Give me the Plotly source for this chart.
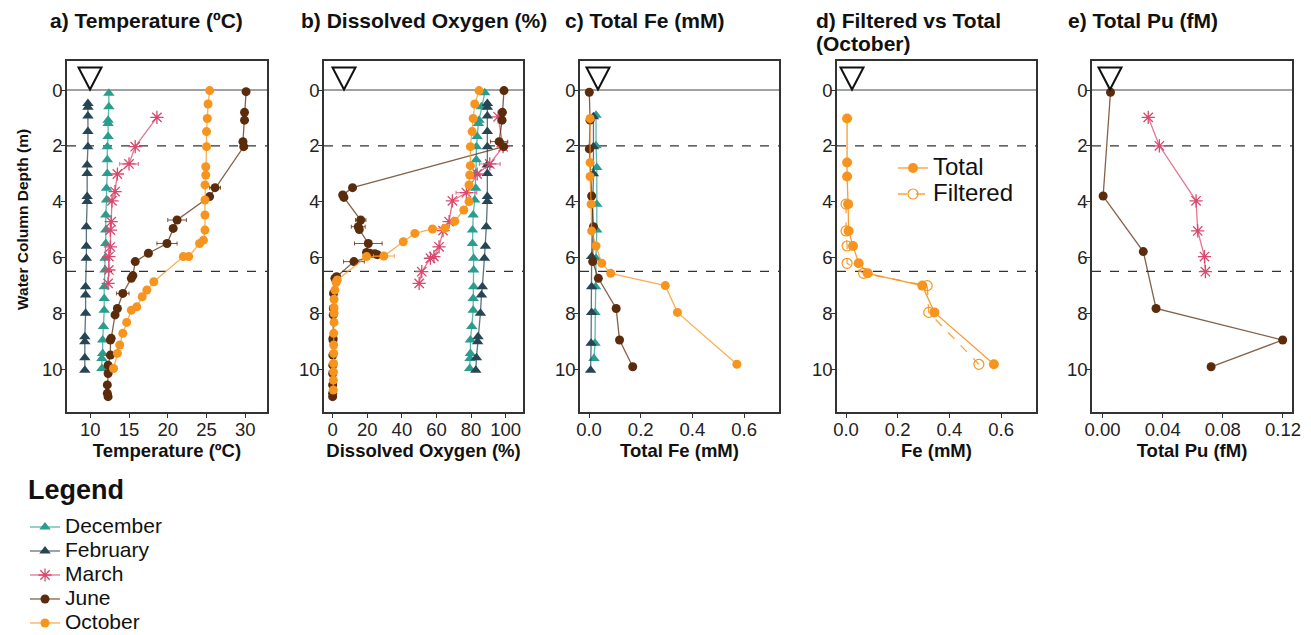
import plotly.graph_objects as go

W, H = 1311, 635

# ---------------- data ----------------
months = ["December", "February", "March", "June", "October"]
colors = {"December": "#2A9D8F", "February": "#264653", "March": "#D9486E",
          "June": "#5B2C0C", "October": "#F7941D"}

# a) Temperature
dec_temp_depth = [0.12, 0.6, 1.08, 1.2, 1.67, 2.03, 2.5, 2.99, 3.52, 3.94, 4.48, 5.02, 5.5, 6.03, 6.45, 7.05, 7.47, 7.89, 8.48, 8.96, 9.44, 9.62, 9.98]
dec_temp = [12.4, 12.4, 12.3, 12.3, 12.3, 12.2, 12.2, 12.2, 12.1, 12.1, 12.0, 12.0, 12.0, 11.9, 11.9, 11.8, 11.8, 11.8, 11.7, 11.6, 11.6, 11.5, 11.5]
feb_temp_depth = [0.48, 0.62, 0.93, 1.49, 2.03, 2.69, 2.99, 3.82, 4.0, 4.9, 5.6, 6.03, 7.05, 7.35, 8.0, 8.84, 9.02, 9.6, 10.04]
feb_temp = [9.7, 9.7, 9.7, 9.7, 9.7, 9.6, 9.6, 9.6, 9.6, 9.5, 9.5, 9.5, 9.4, 9.4, 9.4, 9.3, 9.3, 9.3, 9.3]
mar_temp_depth = [0.98, 2.03, 2.65, 3.01, 3.64, 3.97, 4.72, 5.02, 5.62, 5.97, 6.45, 6.93]
mar_temp = [18.6, 15.8, 15.0, 13.5, 13.2, 12.8, 12.7, 12.6, 12.6, 12.4, 12.4, 12.3]
mar_temp_err = [0, 0, 1.2, 0, 0, 0, 0, 0, 0, 0, 0, 0]
jun_temp_depth = [0.06, 0.8, 1.08, 1.85, 2.03, 3.5, 3.82, 4.66, 4.96, 5.5, 5.85, 6.15, 6.65, 6.75, 7.29, 7.83, 8.06, 8.9, 8.96, 9.5, 9.86, 10.16, 10.57, 10.87, 10.99]
jun_temp = [30.1, 29.9, 29.9, 29.7, 29.8, 26.1, 25.4, 21.2, 20.7, 19.9, 17.5, 15.8, 15.5, 15.3, 14.2, 13.5, 13.2, 12.7, 12.6, 12.6, 12.3, 12.3, 12.2, 12.2, 12.3]
jun_temp_err = [0, 0, 0, 0, 0, 0.7, 0, 1.2, 0.4, 1.3, 0, 0, 0, 0, 0.8, 0, 0, 0, 0, 0, 0, 0, 0, 0, 0]
oct_temp_depth = [0.02, 0.5, 1.02, 1.49, 2.03, 2.75, 3.05, 3.4, 3.94, 4.48, 5.02, 5.38, 5.5, 5.97, 5.97, 6.87, 7.17, 7.41, 7.77, 7.89, 8.33, 8.72, 9.14, 9.44, 9.98]
oct_temp = [25.4, 25.2, 25.1, 25.0, 25.0, 24.9, 24.9, 24.8, 24.8, 24.8, 24.8, 24.6, 24.1, 22.7, 22.0, 18.2, 17.3, 16.7, 16.0, 15.3, 14.7, 14.2, 13.8, 13.5, 13.0]

# b) Dissolved oxygen
dec_do_depth = [0.1, 0.6, 1.08, 1.2, 1.67, 2.03, 2.5, 2.99, 3.52, 3.94, 4.48, 5.02, 5.5, 6.03, 6.45, 7.05, 7.47, 7.89, 8.48, 8.96, 9.44, 9.62, 9.98]
dec_do = [87.9, 86.0, 84.6, 84.2, 83.5, 83.1, 83.0, 82.7, 82.7, 82.1, 81.2, 80.8, 80.8, 81.5, 81.5, 81.5, 81.2, 81.2, 80.4, 79.6, 79.6, 79.4, 79.2]
feb_do_depth = [0.48, 0.62, 0.93, 1.49, 2.03, 2.69, 2.99, 3.82, 4.0, 4.9, 5.6, 6.03, 7.05, 7.35, 8.0, 8.84, 9.02, 9.6, 10.04]
feb_do = [89.4, 89.4, 89.4, 89.4, 89.4, 89.4, 89.4, 89.4, 89.4, 88.8, 88.3, 87.7, 86.5, 86.0, 85.4, 84.0, 83.8, 83.1, 82.7]
mar_do_depth = [0.96, 2.03, 2.65, 3.01, 3.68, 3.97, 4.72, 5.04, 5.62, 5.97, 6.03, 6.51, 6.93]
mar_do = [95.6, 98.5, 90.8, 83.5, 77.3, 69.2, 67.3, 63.8, 61.5, 58.5, 56.5, 51.5, 50.0]
mar_do_err = [0, 0, 6, 0, 6, 0, 0, 0, 0, 0, 0, 0, 0]
jun_do_depth = [0.02, 0.8, 1.08, 1.85, 2.03, 3.5, 3.76, 3.85, 4.66, 4.9, 5.0, 5.5, 5.82, 5.85, 5.87, 5.9, 6.15, 6.69, 6.75, 7.29, 7.83, 8.06, 8.9, 8.96, 9.5, 9.86, 10.16, 10.57, 10.87, 10.99]
jun_do = [99.0, 98.1, 97.9, 96.2, 98.8, 11.5, 5.8, 6.5, 16.2, 14.8, 15.4, 20.6, 19.6, 21.5, 24.4, 25.8, 12.3, 2.3, 1.3, 0.5, 0.4, 0.3, 0.2, 0.2, 0.1, 0.1, 0.0, 0.0, 0.0, 0.0]
jun_do_err = [0, 0, 0, 5, 0, 0, 0, 0, 3, 4, 0, 8, 0, 0, 5, 0, 6, 0, 0, 0, 0, 0, 0, 0, 0, 0, 0, 0, 0, 0]
oct_do_depth = [0.02, 0.5, 1.02, 1.49, 2.03, 2.71, 3.05, 3.4, 4.0, 4.3, 4.7, 4.96, 4.98, 5.14, 5.44, 5.95, 5.97, 6.81, 6.9, 7.17, 7.5, 7.8, 8.0, 8.33, 8.72, 9.14, 9.44, 9.8, 10.1, 10.4, 10.75]
oct_do = [84.6, 82.1, 81.2, 80.6, 79.6, 79.6, 79.2, 78.8, 78.8, 75.8, 70.6, 64.8, 57.7, 47.5, 40.8, 29.6, 19.6, 2.7, 2.0, 1.3, 0.8, 0.8, 0.8, 0.8, 0.6, 0.6, 0.6, 0.5, 0.5, 0.4, 0.4]
oct_do_err = [0] * 15 + [6] + [0] * 15

# c) Total Fe (mM)
dec_fe_depth = [0.9, 2.0, 2.78, 4.09, 5.02, 6.03, 7.05, 7.97, 9.08, 9.62]
dec_fe = [0.027, 0.027, 0.030, 0.030, 0.030, 0.027, 0.025, 0.023, 0.023, 0.019]
feb_fe_depth = [0.96, 2.03, 3.0, 5.97, 7.05, 7.97, 9.08, 10.04]
feb_fe = [0.017, 0.017, 0.017, 0.010, 0.010, 0.010, 0.008, 0.006]
jun_fe_depth = [0.08, 1.08, 2.11, 3.8, 4.9, 6.15, 6.75, 7.83, 8.96, 9.92]
jun_fe = [0.001, 0.004, 0.001, 0.010, 0.017, 0.014, 0.036, 0.105, 0.118, 0.169]
oct_fe_depth = [1.02, 2.6, 3.1, 4.09, 5.05, 5.59, 6.21, 6.57, 7.01, 7.97, 9.83]
oct_fe = [0.004, 0.004, 0.004, 0.008, 0.010, 0.027, 0.049, 0.084, 0.295, 0.342, 0.572]

# d) Filtered vs total (October)
filt_fe_depth = [4.09, 5.05, 5.59, 6.21, 6.57, 7.01, 7.97, 9.83]
filt_fe = [0.0, 0.0, 0.004, 0.004, 0.068, 0.314, 0.320, 0.514]

# e) Total Pu (fM)
mar_pu_depth = [0.98, 2.0, 3.97, 5.05, 5.97, 6.51]
mar_pu = [0.0304, 0.0378, 0.0622, 0.0633, 0.0678, 0.0684]
jun_pu_depth = [0.08, 3.8, 5.79, 7.83, 8.96, 9.92]
jun_pu = [0.0053, 0.0004, 0.0271, 0.0356, 0.1198, 0.0722]

titles = [["a) Temperature (ºC)"], ["b) Dissolved Oxygen (%)"], ["c) Total Fe (mM)"],
          ["d) Filtered vs Total", "(October)"], ["e) Total Pu (fM)"]]
xtitles = ["Temperature (ºC)", "Dissolved Oxygen (%)", "Total Fe (mM)", "Fe (mM)", "Total Pu (fM)"]
xranges = [[7.0, 32.8], [-5, 110], [-0.035, 0.735], [-0.035, 0.735], [-0.007, 0.126]]
xtickvals = [[10, 15, 20, 25, 30], [0, 20, 40, 60, 80, 100], [0, 0.2, 0.4, 0.6],
             [0, 0.2, 0.4, 0.6], [0, 0.04, 0.08, 0.12]]
xticktext = [["10", "15", "20", "25", "30"], ["0", "20", "40", "60", "80", "100"],
             ["0.0", "0.2", "0.4", "0.6"], ["0.0", "0.2", "0.4", "0.6"],
             ["0.00", "0.04", "0.08", "0.12"]]
depth_ticks = [0, 2, 4, 6, 8, 10]
chemocline = [2, 6.5]

# ---------------- layout geometry (pixels) ----------------
panel_px = [(67, 267), (324, 523), (580, 779), (837, 1036), (1092, 1292)]
top_px, bot_px = 61, 412
title_px = [48, 299, 563, 814, 1066]
tri_px = [90, 344, 598, 852, 1110]

FONT = "Liberation Sans, Arial, Helvetica, sans-serif"
AX = "#333333"


def rgba(hexc, a):
    h = hexc.lstrip("#")
    return "rgba(%d,%d,%d,%.2f)" % (int(h[0:2], 16), int(h[2:4], 16), int(h[4:6], 16), a)


def big(txt, px):
    return '<span style="font-size:%dpx">%s</span>' % (px, txt)


marker_style = {
    "December": dict(symbol="triangle-up", size=10),
    "February": dict(symbol="triangle-up", size=10),
    "March": dict(symbol="asterisk-open", size=11),
    "June": dict(symbol="circle", size=9),
    "October": dict(symbol="circle", size=9),
}

fig = go.Figure()
shown = set()


def add(panel, month, xs, ys, err=None):
    c = colors[month]
    ms = dict(marker_style[month])
    ms["color"] = c
    if month == "March":
        ms["line"] = dict(color=c, width=1.3)
    else:
        ms["line"] = dict(width=0)
    tr = dict(x=xs, y=ys, mode="lines+markers", name=big(month, 21), legendgroup=month,
              showlegend=month not in shown, marker=ms,
              line=dict(color=rgba(c, 0.75), width=1.3),
              xaxis="x" if panel == 1 else "x%d" % panel,
              yaxis="y" if panel == 1 else "y%d" % panel)
    if err is not None:
        tr["error_x"] = dict(type="data", array=err, color=rgba(c, 0.8), thickness=1, width=2)
    fig.add_trace(go.Scatter(**tr))
    shown.add(month)


# panel a
add(1, "December", dec_temp, dec_temp_depth)
add(1, "February", feb_temp, feb_temp_depth)
add(1, "March", mar_temp, mar_temp_depth, mar_temp_err)
add(1, "June", jun_temp, jun_temp_depth, jun_temp_err)
add(1, "October", oct_temp, oct_temp_depth)
# panel b
add(2, "December", dec_do, dec_do_depth)
add(2, "February", feb_do, feb_do_depth)
add(2, "March", mar_do, mar_do_depth, mar_do_err)
add(2, "June", jun_do, jun_do_depth, jun_do_err)
add(2, "October", oct_do, oct_do_depth, oct_do_err)
# panel c
add(3, "December", dec_fe, dec_fe_depth)
add(3, "February", feb_fe, feb_fe_depth)
add(3, "June", jun_fe, jun_fe_depth)
add(3, "October", oct_fe, oct_fe_depth)
# panel d
oc = colors["October"]
fig.add_trace(go.Scatter(x=filt_fe, y=filt_fe_depth, mode="lines+markers", name=big("Filtered", 24),
                         legend="legend2", xaxis="x4", yaxis="y4",
                         marker=dict(symbol="circle-open", size=10, color=oc, line=dict(width=1.2)),
                         line=dict(color=rgba(oc, 0.85), width=1.3, dash="dash")))
fig.add_trace(go.Scatter(x=oct_fe, y=oct_fe_depth, mode="lines+markers", name=big("Total", 24),
                         legend="legend2", xaxis="x4", yaxis="y4",
                         marker=dict(symbol="circle", size=10, color=oc),
                         line=dict(color=rgba(oc, 0.9), width=1.3)))
# panel e
add(5, "March", mar_pu, mar_pu_depth)
add(5, "June", jun_pu, jun_pu_depth)

layout = dict(
    width=W, height=H, margin=dict(l=0, r=0, t=0, b=0, autoexpand=False),
    paper_bgcolor="white", plot_bgcolor="white",
    font=dict(family=FONT, color="#111111", size=15),
    showlegend=True,
    legend=dict(x=25 / W, y=1 - 510 / H, xanchor="left", yanchor="top",
                font=dict(size=16.15, color="#111"), traceorder="normal", bgcolor="rgba(0,0,0,0)",
                itemwidth=30, tracegroupgap=0),
    legend2=dict(x=893 / W, y=1 - 150 / H, xanchor="left", yanchor="top",
                 font=dict(size=17.7, color="#111"), traceorder="reversed", bgcolor="rgba(0,0,0,0)",
                 itemwidth=30),
    shapes=[], annotations=[],
)

for i in range(5):
    k = "" if i == 0 else str(i + 1)
    x0, x1 = panel_px[i]
    layout["xaxis" + k] = dict(
        domain=[x0 / W, x1 / W], anchor="y" + k, range=xranges[i],
        tickvals=xtickvals[i], ticktext=xticktext[i],
        showline=True, mirror=True, linecolor=AX, linewidth=1.5,
        ticks="outside", ticklen=4, tickcolor=AX, showgrid=False, zeroline=False,
        tickfont=dict(size=18.5, color="#222"), automargin=False, ticklabelstandoff=-4,
        title=dict(text="<b>%s</b>" % xtitles[i], font=dict(size=18.5), standoff=4))
    layout["yaxis" + k] = dict(
        domain=[1 - bot_px / H, 1 - top_px / H], anchor="x" + k,
        range=[11.54, -1.04], tickvals=depth_ticks,
        showline=True, mirror=True, linecolor=AX, linewidth=1.5,
        ticks="outside", ticklen=4, tickcolor=AX, showgrid=False, zeroline=False,
        tickfont=dict(size=18.5, color="#222"), automargin=False, ticklabelstandoff=-5)
    xr = "x" if i == 0 else "x%d" % (i + 1)
    yr = "y" if i == 0 else "y%d" % (i + 1)
    # water surface and chemocline lines
    layout["shapes"].append(dict(type="line", xref=xr + " domain", yref=yr, x0=0, x1=1, y0=0, y1=0,
                                 line=dict(color="#444", width=1.2), layer="below"))
    for d in chemocline:
        layout["shapes"].append(dict(type="line", xref=xr + " domain", yref=yr, x0=0, x1=1, y0=d, y1=d,
                                     line=dict(color="#333", width=1.2, dash="dash"), layer="below"))
    # water-surface triangle symbol
    cx = tri_px[i]
    p = lambda xx, yy: "%.5f,%.5f" % (xx / W, 1 - yy / H)
    layout["shapes"].append(dict(type="path", xref="paper", yref="paper",
                                 path="M%s L%s L%s Z" % (p(cx - 11.5, 67.5), p(cx + 11.5, 67.5), p(cx, 89.5)),
                                 line=dict(color="#111", width=2), fillcolor="rgba(0,0,0,0)"))
    # panel title (one annotation per line)
    for j, line in enumerate(titles[i]):
        layout["annotations"].append(dict(text="<b>%s</b>" % line, xref="paper", yref="paper",
                                          x=title_px[i] / W, y=1 - (21 + 22 * j) / H,
                                          xanchor="left", yanchor="middle",
                                          align="left", showarrow=False, font=dict(size=21, color="#111")))

layout["annotations"].append(dict(text="<b>Water Column Depth (m)</b>", xref="paper", yref="paper",
                                  x=22 / W, y=1 - 220 / H, textangle=-90, showarrow=False,
                                  xanchor="center", yanchor="middle", font=dict(size=15.5)))
layout["annotations"].append(dict(text="<b>Legend</b>", xref="paper", yref="paper",
                                  x=26 / W, y=1 - 490 / H, xanchor="left", yanchor="middle",
                                  showarrow=False, font=dict(size=27, color="#111")))

fig.update_layout(**layout)

# remove page margins
post_js = (
    "var s=document.createElement('style');"
    "s.innerHTML='html,body{margin:0 !important;padding:0 !important;overflow:hidden !important;}';"
    "document.head.appendChild(s);"
)
fig.write_html("out.html", config={"displayModeBar": False}, post_script=post_js)
